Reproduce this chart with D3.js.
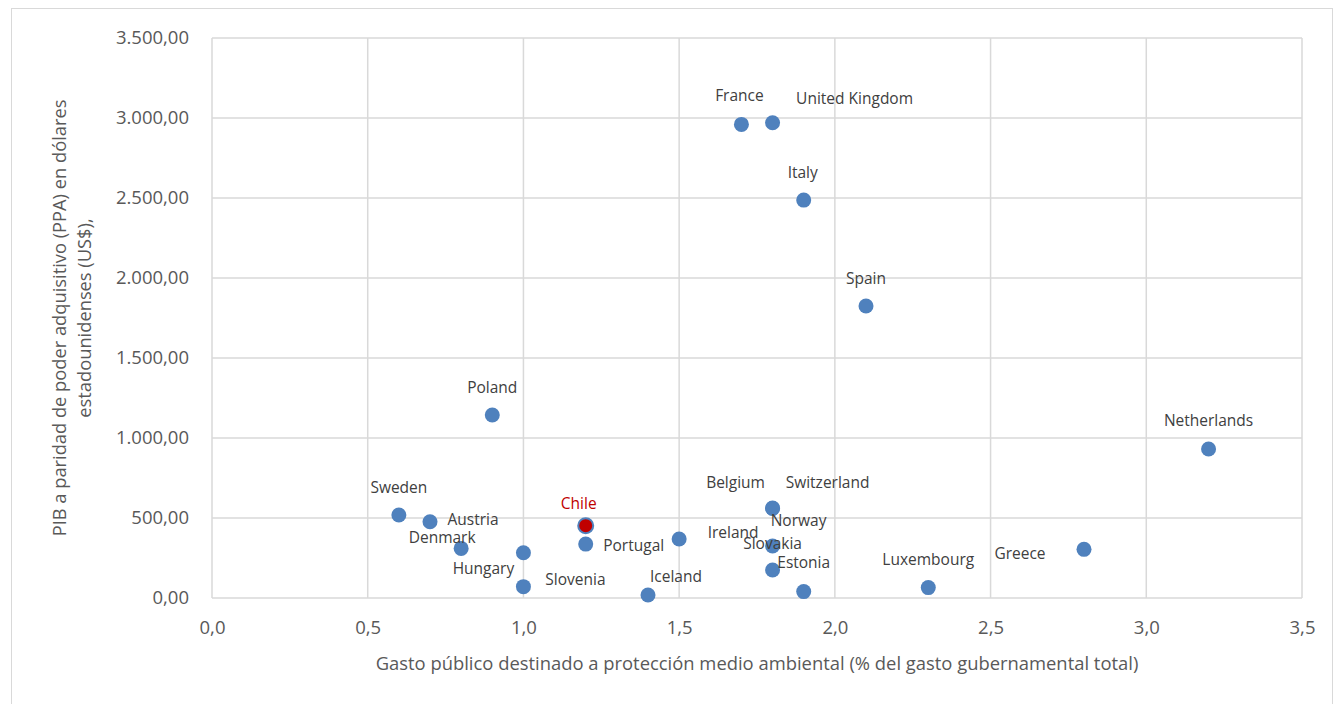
<!DOCTYPE html>
<html><head><meta charset="utf-8">
<script src="https://cdn.jsdelivr.net/npm/d3@7"></script>
<style>body{margin:0;background:#fff;} text{font-family:"Open Sans","Noto Sans",sans-serif;}</style>
</head><body>
<svg id="c" width="1336" height="704"></svg>
<script>
const countries = ["France","United Kingdom","Italy","Spain","Poland","Netherlands","Sweden","Austria","Denmark","Hungary","Slovenia","Chile","Portugal","Iceland","Ireland","Belgium","Switzerland","Norway","Slovakia","Estonia","Luxembourg","Greece"];
const gasto = [1.7,1.8,1.9,2.1,0.9,3.2,0.6,0.7,0.8,1.0,1.0,1.2,1.2,1.4,1.5,1.8,1.8,1.8,1.8,1.9,2.3,2.8];
const pib = [2960,2970,2487,1825,1144,931,519,477,310,283,71,452,337,19,369,560,562,325,175,40,65,304];
const xTicks = [0,0.5,1,1.5,2,2.5,3,3.5];
const yTicks = [0,500,1000,1500,2000,2500,3000,3500];
const highlight = "Chile";
// label offsets relative to the point (px)
const labelOffset = {
  "France":[-2,-29],"United Kingdom":[82,-25],"Italy":[-1,-28],"Spain":[0,-28],"Poland":[0,-28],
  "Netherlands":[0,-29],"Sweden":[0,-28],"Austria":[43,-3],"Denmark":[-19,-11],"Hungary":[-40,15],
  "Slovenia":[52,-8],"Chile":[-7,-23],"Portugal":[48,1],"Iceland":[28,-19],"Ireland":[54,-7],
  "Belgium":[-37,-26],"Switzerland":[55,-26],"Norway":[26,-26],"Slovakia":[0,-27],"Estonia":[0,-30],
  "Luxembourg":[0,-29],"Greece":[-64,4]
};
const svg = d3.select("#c");
const m = {l:212, r:1302, t:38, b:598};
const x = d3.scaleLinear().domain([0,3.5]).range([m.l,m.r]);
const y = d3.scaleLinear().domain([0,3500]).range([m.b,m.t]);
// outer border
svg.append("rect").attr("x",11.5).attr("y",8.5).attr("width",1321).attr("height",700).attr("fill","none").attr("stroke","#d9d9d9");
const fmtX = d => d3.format(".1f")(d).replace(".",",");
const fmtY = d => { const s=d3.format(",.2f")(d); return s.replace(/,/g,"#").replace(".",",").replace(/#/g,"."); };
// grid
svg.append("g").selectAll("line").data(xTicks).join("line")
  .attr("x1",d=>x(d)).attr("x2",d=>x(d)).attr("y1",m.t).attr("y2",m.b)
  .attr("stroke","#d9d9d9").attr("stroke-width",1.5);
svg.append("g").selectAll("line").data(yTicks).join("line")
  .attr("x1",m.l).attr("x2",m.r).attr("y1",d=>y(d)).attr("y2",d=>y(d))
  .attr("stroke","#d9d9d9").attr("stroke-width",1.5);
// axes
const xa = svg.append("g").attr("transform",`translate(0,${m.b})`).call(d3.axisBottom(x).tickValues(xTicks).tickFormat(fmtX).tickSize(0).tickPadding(23));
const ya = svg.append("g").attr("transform",`translate(${m.l},0)`).call(d3.axisLeft(y).tickValues(yTicks).tickFormat(fmtY).tickSize(0).tickPadding(23));
[xa,ya].forEach(a=>{a.select(".domain").remove(); a.selectAll("text").attr("fill","#595959").attr("font-size","18.5px").style("font-family","'Open Sans',sans-serif");});
// axis titles
svg.append("text").attr("x",757).attr("y",670).attr("text-anchor","middle").attr("fill","#595959").attr("font-size","18.4px").text("Gasto público destinado a protección medio ambiental (% del gasto gubernamental total)");
const yt = svg.append("text").attr("transform","translate(66,318) rotate(-90)").attr("text-anchor","middle").attr("fill","#595959").attr("font-size","18.3px");
yt.append("tspan").attr("x",0).attr("dy",0).text("PIB a paridad de poder adquisitivo (PPA) en dólares");
yt.append("tspan").attr("x",0).attr("dy",25).text("estadounidenses (US$),");
// data
const data = countries.map((c,i)=>({c, gx:gasto[i], py:pib[i]}));
svg.append("g").selectAll("circle").data(data).join("circle")
  .attr("cx",d=>x(d.gx)).attr("cy",d=>y(d.py)).attr("r",7.5)
  .attr("fill",d=>d.c===highlight?"#C00000":"#4F81BD")
  .attr("stroke","#4F81BD").attr("stroke-width",d=>d.c===highlight?2:0);
svg.append("g").selectAll("text").data(data).join("text")
  .attr("x",d=>x(d.gx)+labelOffset[d.c][0]).attr("y",d=>y(d.py)+labelOffset[d.c][1])
  .attr("text-anchor","middle").attr("dominant-baseline","central")
  .attr("font-size","15.5px").attr("fill",d=>d.c===highlight?"#C00000":"#404040").text(d=>d.c);
</script>
</body></html>
